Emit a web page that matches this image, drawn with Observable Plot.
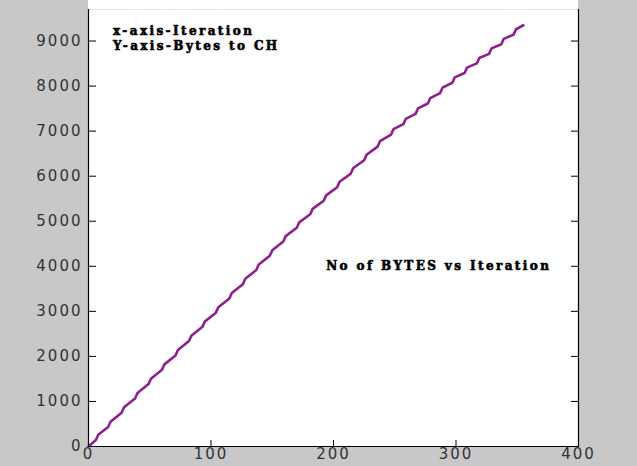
<!DOCTYPE html>
<html>
<head>
<meta charset="utf-8">
<script src="https://cdn.jsdelivr.net/npm/d3@7"></script>
<script src="https://cdn.jsdelivr.net/npm/@observablehq/plot@0.6"></script>
<style>
  html, body { margin: 0; padding: 0; background: #c8c8c8; }
  #chart svg { display: block; }
</style>
</head>
<body>
<div id="chart"></div>
<script>
const iterations = [0,6,8,16,18,27,29,38,40,49,51,60,62,71,73,82,84,93,95,104,106,115,117,126,128,137,139,148,150,159,161,170,172,181,183,192,194,203,205,214,216,225,227,236,238,247,249,257,259,267,269,277,279,287,289,297,299,307,309,317,319,327,329,337,339,347,349,355];
const bytes = [0,142,262,431,551,749,869,1067,1187,1385,1505,1703,1823,2021,2141,2340,2460,2656,2776,2971,3091,3287,3407,3603,3723,3918,4038,4234,4354,4550,4670,4854,4974,5154,5274,5454,5574,5755,5875,6055,6175,6355,6475,6656,6776,6924,7044,7154,7274,7384,7504,7614,7734,7844,7964,8074,8194,8290,8410,8503,8623,8716,8836,8929,9049,9142,9262,9350];
const xTicks = [0,100,200,300,400];
const yTicks = [0,1000,2000,3000,4000,5000,6000,7000,8000,9000];
const notes = [
  {x: 20, y: 9220, text: "x-axis-Iteration"},
  {x: 20, y: 8880, text: "Y-axis-Bytes to CH"},
  {x: 194, y: 4000, text: "No of BYTES vs Iteration"}
];

const data = iterations.map((t, i) => ({t, b: bytes[i]}));
const blank = () => "";

const chart = Plot.plot({
  width: 637,
  height: 466,
  marginLeft: 88,
  marginRight: 59,
  marginTop: 9,
  marginBottom: 20,
  style: {background: "linear-gradient(#fff, #fff) 88px 0 / 490px 9px no-repeat, #c8c8c8", overflow: "visible"},
  x: {domain: [0, 400]},
  y: {domain: [0, 9700]},
  marks: [
    Plot.frame({fill: "white", stroke: "none"}),
    Plot.line(data, {x: "t", y: "b", stroke: "#8e1f8e", strokeWidth: 2.6, strokeLinejoin: "round"}),
    Plot.ruleX([0, 400], {stroke: "#000", strokeWidth: 1.2}),
    Plot.ruleY([0], {stroke: "#000", strokeWidth: 1.2}),
    Plot.axisY(yTicks, {anchor: "left", tickSize: 8, dx: 8, tickFormat: blank, label: null, stroke: "#000"}),
    Plot.axisY(yTicks, {anchor: "right", tickSize: 8, dx: -8, tickFormat: blank, label: null, stroke: "#000"}),
    Plot.axisX(xTicks, {anchor: "bottom", tickSize: 6, dy: -6, tickFormat: blank, label: null, stroke: "#000"}),
    Plot.axisY(yTicks, {anchor: "left", tickSize: 0, tickPadding: 6, label: null, tickFormat: d => String(d),
      fontSize: 15, fontFamily: "DejaVu Sans", fill: "#333"}),
    Plot.axisX(xTicks, {anchor: "bottom", tickSize: 0, tickPadding: 2, label: null, tickFormat: d => String(d),
      fontSize: 15, fontFamily: "DejaVu Sans", fill: "#333"}),
    Plot.text(notes, {x: "x", y: "y", text: "text", textAnchor: "start", fontSize: 12,
      fontFamily: "DejaVu Serif", fontWeight: 900, fill: "#000", stroke: "#000", strokeWidth: 0.6})
  ]
});
document.getElementById("chart").appendChild(chart);

// widen the letter spacing like the reference's stretched lettering
d3.select(chart).selectAll("g[aria-label='y-axis tick label'] text, g[aria-label='x-axis tick label'] text")
  .attr("letter-spacing", "2px");
d3.select(chart).selectAll("g[aria-label='text'] text")
  .attr("letter-spacing", "2.4px");
</script>
</body>
</html>
